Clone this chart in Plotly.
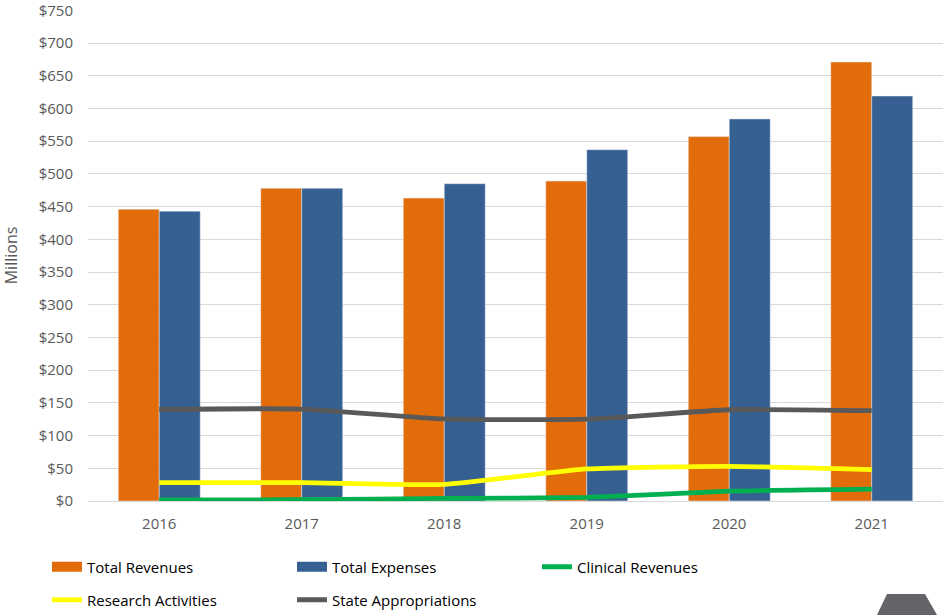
import plotly.graph_objects as go

years = ["2016", "2017", "2018", "2019", "2020", "2021"]
total_revenues = [446, 478, 463, 489, 557, 671]
total_expenses = [443, 478, 485, 537, 584, 619]
clinical_revenues = [1.5, 2, 4, 5.5, 15, 18]
research_activities = [28, 28, 25.5, 49, 53, 48]
state_appropriations = [140, 140.5, 125.5, 125, 139.5, 138]
y_ticks = list(range(0, 751, 50))
y_tick_labels = ["$" + str(v) for v in y_ticks]

font_family = "Open Sans, Lato, sans-serif"
ORANGE, BLUE = "#E36C0A", "#366092"

fig = go.Figure()
fig.add_trace(go.Bar(x=years, y=total_revenues, name="Total Revenues",
                     marker=dict(color=ORANGE), showlegend=False))
fig.add_trace(go.Bar(x=years, y=total_expenses, name="Total Expenses",
                     marker=dict(color=BLUE), showlegend=False))

# legend-only swatches (wide rectangles like the reference)
for name, col in [("Total Revenues", ORANGE), ("Total Expenses", BLUE)]:
    fig.add_trace(go.Scatter(x=[None], y=[None], name=name, mode="lines",
                             line=dict(color=col, width=14), legend="legend"))

line_specs = [
    ("Clinical Revenues", clinical_revenues, "#00B050", "legend"),
    ("Research Activities", research_activities, "#FFFF00", "legend2"),
    ("State Appropriations", state_appropriations, "#595959", "legend2"),
]
for name, vals, col, lg in line_specs:
    fig.add_trace(go.Scatter(x=years, y=vals, name=name, mode="lines", legend=lg,
                             line=dict(color=col, width=4.8, shape="spline", smoothing=0.5)))

L, R, T, B = 88, 3, 10, 114
W, H = 946, 615
pw, ph = W - L - R, H - T - B

def px(x):
    return (x - L) / pw

def py(y):
    return (H - B - y) / ph

path = "M {},{} L {},{} L {},{} L {},{} Z".format(
    px(887), py(594), px(925), py(594), px(937), py(615), px(877), py(615))

legend_common = dict(orientation="h", xanchor="left", yanchor="middle",
                     entrywidth=200, entrywidthmode="pixels", traceorder="normal",
                     font=dict(family=font_family, size=15, color="#000000"),
                     bgcolor="rgba(0,0,0,0)")

fig.update_layout(
    width=W, height=H,
    margin=dict(l=L, r=R, t=T, b=B, autoexpand=False),
    paper_bgcolor="white", plot_bgcolor="white",
    barmode="group", bargap=0.425, bargroupgap=0,
    font=dict(family=font_family, size=15, color="#595959"),
    showlegend=True,
    legend=dict(x=px(47), y=py(567), **legend_common),
    legend2=dict(x=px(47), y=py(600), **legend_common),
    shapes=[dict(type="path", path=path, xref="paper", yref="paper",
                 fillcolor="#646468", line=dict(width=0), layer="above")],
)
fig.update_xaxes(showgrid=False, showline=False, ticks="", ticklabelstandoff=12,
                 tickfont=dict(size=15, color="#595959"))
fig.update_yaxes(range=[0, 750.5], tickvals=y_ticks, ticktext=y_tick_labels,
                 showgrid=True, gridcolor="#D9D9D9", gridwidth=1,
                 zeroline=True, zerolinecolor="#D9D9D9", zerolinewidth=1,
                 ticks="", ticklabelstandoff=14, ticklabeloverflow="allow",
                 tickfont=dict(size=15, color="#595959"),
                 title=dict(text="Millions", standoff=18, font=dict(size=16, color="#595959")))

fig.write_html("out.html")
